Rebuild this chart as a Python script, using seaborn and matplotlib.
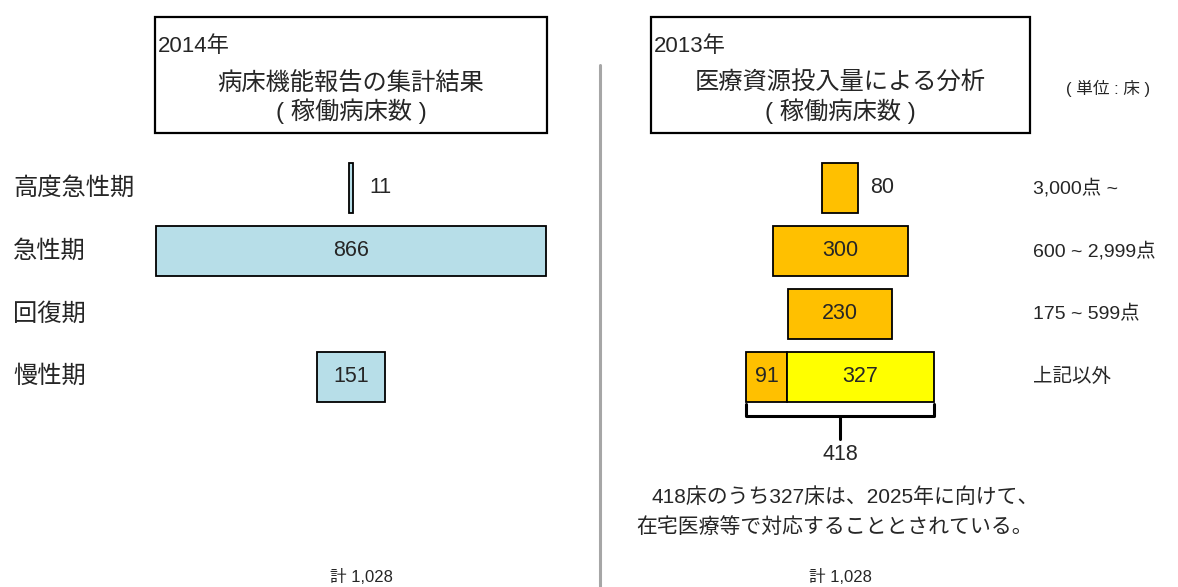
import numpy as np
import matplotlib
matplotlib.use("Agg")
import matplotlib.pyplot as plt
from matplotlib.patches import Rectangle
from matplotlib.lines import Line2D
from matplotlib.transforms import blended_transform_factory
import seaborn as sns

# data
categories = ["高度急性期", "急性期", "回復期", "慢性期"]
beds_2014 = [11, 866, np.nan, 151]          # 病床機能報告
beds_2013 = [80, 300, 230, 91]              # 医療資源投入量
home_care_2013 = [0, 0, 0, 327]             # 在宅医療等で対応
point_ranges = ["3,000点 ~", "600 ~ 2,999点", "175 ~ 599点", "上記以外"]
total_2014 = "計 1,028"
total_2013 = "計 1,028"

sns.set_theme(style="white")
plt.rcParams["font.family"] = ["Liberation Sans", "Noto Sans CJK JP", "DejaVu Sans"]

W, H = 1178, 587
fig = plt.figure(figsize=(W / 100, H / 100), dpi=100)
scale = 0.45        # px per bed
row_px = 63
row0_px = 188


def make_ax(center_px):
    ax = fig.add_axes([0, 0, 1, 1])
    ax.set_xlim(-center_px / scale, (W - center_px) / scale)
    ax.set_ylim((H - row0_px) / row_px, -row0_px / row_px)
    ax.axis("off")
    ax.patch.set_alpha(0)
    return ax


ax_l = make_ax(351)
ax_r = make_ax(840)
bh = 50 / row_px
edge = dict(edgecolor="black", linewidth=1.3)
fs_val = 15.5

# left panel
for i, v in enumerate(beds_2014):
    if np.isnan(v):
        continue
    ax_l.barh(i, v, left=-v / 2, height=bh, color="#B7DEE8", **edge)
    if v < 50:
        ax_l.text(v / 2 + 35, i, str(v), ha="left", va="center", fontsize=fs_val)
    else:
        ax_l.text(0, i, str(v), ha="center", va="center", fontsize=fs_val)

# right panel
for i, (a, b) in enumerate(zip(beds_2013, home_care_2013)):
    tot = a + b
    ax_r.barh(i, a, left=-tot / 2, height=bh, color="#FFC000", **edge)
    if b > 0:
        ax_r.barh(i, b, left=-tot / 2 + a, height=bh, color="#FFFF00", **edge)
        ax_r.text(-tot / 2 + a / 2, i, str(a), ha="center", va="center", fontsize=fs_val)
        ax_r.text(-tot / 2 + a + b / 2, i, str(b), ha="center", va="center", fontsize=fs_val)
    elif a < 100:
        ax_r.text(a / 2 + 28, i, str(a), ha="left", va="center", fontsize=fs_val)
    else:
        ax_r.text(0, i, str(a), ha="center", va="center", fontsize=fs_val)

# brace under the stacked bar
last = len(beds_2013) - 1
tot = beds_2013[last] + home_care_2013[last]
y_top, y_mid, y_tip = last + 0.43, last + 0.62, last + 0.98
ax_r.plot([-tot / 2, -tot / 2, tot / 2, tot / 2], [y_top, y_mid, y_mid, y_top],
          color="black", lw=2.2, solid_joinstyle="round")
ax_r.plot([0, 0], [y_mid, y_tip], color="black", lw=2.2)
ax_r.text(0, last + 1.23, str(tot), ha="center", va="center", fontsize=fs_val)

# row labels
tl = blended_transform_factory(fig.transFigure, ax_l.transData)
for i, c in enumerate(categories):
    ax_l.text(13 / W, i, c, transform=tl, ha="left", va="center", fontsize=17.5)
tr = blended_transform_factory(fig.transFigure, ax_r.transData)
for i, c in enumerate(point_ranges):
    ax_r.text(1033 / W, i, c, transform=tr, ha="left", va="center", fontsize=14)

# title boxes
for x0, x1 in [(155, 547), (651, 1030)]:
    fig.add_artist(Rectangle((x0 / W, 1 - 133 / H), (x1 - x0) / W, 116 / H,
                             transform=fig.transFigure, fill=False,
                             edgecolor="black", linewidth=1.6))
fig.text(158 / W, 1 - 47 / H, "2014年", ha="left", va="center", fontsize=16)
fig.text(351 / W, 1 - 83 / H, "病床機能報告の集計結果", ha="center", va="center", fontsize=17.5)
fig.text(351 / W, 1 - 111 / H, "( 稼働病床数 )", ha="center", va="center", fontsize=17.5)
fig.text(654 / W, 1 - 47 / H, "2013年", ha="left", va="center", fontsize=16)
fig.text(840 / W, 1 - 83 / H, "医療資源投入量による分析", ha="center", va="center", fontsize=17.5)
fig.text(840 / W, 1 - 111 / H, "( 稼働病床数 )", ha="center", va="center", fontsize=17.5)
fig.text(1108 / W, 1 - 88 / H, "( 単位 : 床 )", ha="center", va="center", fontsize=12)

# divider
fig.add_artist(Line2D([600 / W, 600 / W], [0, 1 - 65 / H], transform=fig.transFigure,
                      color="#A6A6A6", lw=2.2))

# notes and totals
fig.text(651 / W, 1 - 497 / H, "418床のうち327床は、2025年に向けて、", ha="left", va="center", fontsize=15)
fig.text(636 / W, 1 - 527 / H, "在宅医療等で対応することとされている。", ha="left", va="center", fontsize=15)
fig.text(361 / W, 1 - 577 / H, total_2014, ha="center", va="center", fontsize=12)
fig.text(840 / W, 1 - 577 / H, total_2013, ha="center", va="center", fontsize=12)

fig.savefig("out.png", dpi=100)
